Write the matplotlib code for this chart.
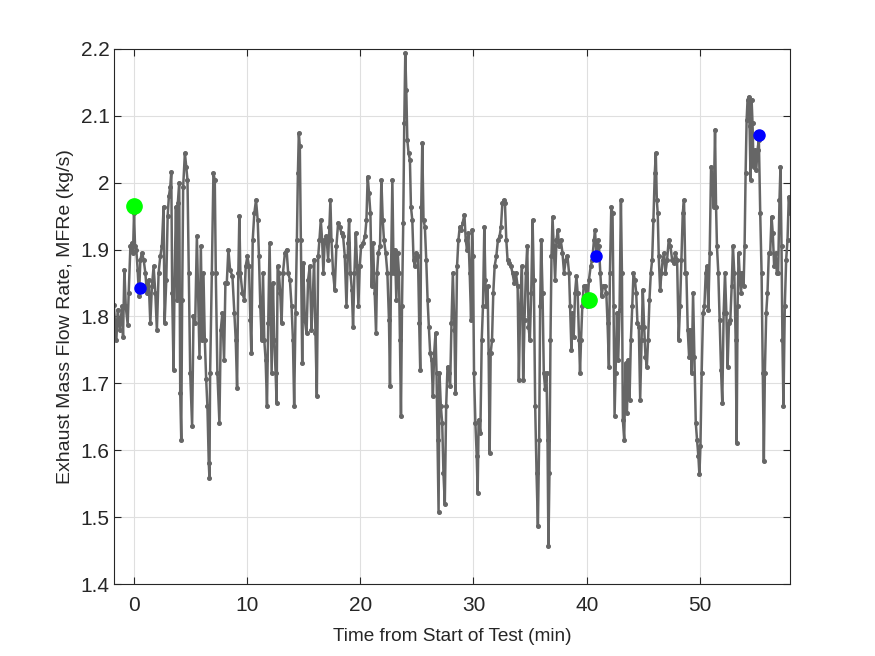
import matplotlib
matplotlib.use("Agg")
import matplotlib.pyplot as plt

# Exhaust mass flow rate trace (time in min, MFRe in kg/s)
time_min = [
    -1.76, -1.53, -1.41, -1.23, -1.03, -0.94, -0.82, -0.70, -0.53, -0.44, -0.29, -0.15, -0.06, 0.03, 0.12, 0.23,
    0.35, 0.47, 0.59, 0.73, 0.88, 1.03, 1.17, 1.32, 1.47, 1.61, 1.76, 1.91, 2.05, 2.20, 2.35, 2.49,
    2.64, 2.73, 2.88, 3.00, 3.11, 3.23, 3.32, 3.40, 3.52, 3.61, 3.73, 3.84, 3.90, 4.02, 4.11, 4.20,
    4.28, 4.37, 4.52, 4.64, 4.75, 4.87, 4.99, 5.16, 5.28, 5.43, 5.58, 5.69, 5.81, 5.93, 6.05, 6.16,
    6.28, 6.40, 6.51, 6.63, 6.69, 6.75, 6.90, 7.04, 7.16, 7.25, 7.39, 7.57, 7.69, 7.83, 7.98, 8.10,
    8.22, 8.36, 8.51, 8.72, 8.89, 9.01, 9.13, 9.24, 9.33, 9.42, 9.60, 9.77, 9.89, 10.04, 10.18, 10.30,
    10.39, 10.51, 10.65, 10.80, 10.95, 11.06, 11.18, 11.30, 11.42, 11.53, 11.65, 11.77, 11.88, 12.00, 12.09, 12.18,
    12.30, 12.41, 12.53, 12.62, 12.71, 12.82, 12.94, 13.06, 13.18, 13.35, 13.50, 13.64, 13.79, 13.94, 14.06, 14.17,
    14.29, 14.41, 14.50, 14.58, 14.67, 14.76, 14.88, 14.97, 15.11, 15.26, 15.40, 15.55, 15.70, 15.82, 15.93, 16.05,
    16.17, 16.29, 16.40, 16.52, 16.64, 16.75, 16.87, 17.02, 17.17, 17.28, 17.37, 17.46, 17.61, 17.75, 17.90, 18.05,
    18.20, 18.35, 18.49, 18.64, 18.79, 18.93, 19.02, 19.14, 19.26, 19.37, 19.49, 19.61, 19.73, 19.84, 19.96, 20.08,
    20.25, 20.43, 20.55, 20.66, 20.78, 20.90, 21.02, 21.13, 21.28, 21.40, 21.49, 21.60, 21.75, 21.87, 21.99, 22.10,
    22.25, 22.40, 22.54, 22.63, 22.72, 22.84, 22.95, 23.07, 23.19, 23.31, 23.42, 23.51, 23.60, 23.69, 23.80, 23.89,
    23.98, 24.07, 24.16, 24.27, 24.39, 24.48, 24.60, 24.71, 24.83, 24.95, 25.10, 25.21, 25.30, 25.39, 25.48, 25.59,
    25.71, 25.83, 25.95, 26.06, 26.18, 26.30, 26.42, 26.53, 26.65, 26.74, 26.83, 26.92, 27.00, 27.12, 27.24, 27.35,
    27.47, 27.59, 27.71, 27.82, 27.94, 28.06, 28.18, 28.32, 28.41, 28.55, 28.67, 28.79, 28.91, 29.05, 29.20, 29.32,
    29.43, 29.55, 29.67, 29.79, 29.88, 29.96, 30.05, 30.17, 30.29, 30.37, 30.46, 30.61, 30.73, 30.84, 30.96, 31.05,
    31.14, 31.25, 31.34, 31.43, 31.52, 31.64, 31.75, 31.87, 32.02, 32.16, 32.31, 32.43, 32.55, 32.66, 32.78, 32.90,
    33.01, 33.16, 33.31, 33.45, 33.60, 33.75, 33.90, 34.01, 34.13, 34.28, 34.39, 34.51, 34.63, 34.75, 34.86, 34.98,
    35.10, 35.22, 35.33, 35.45, 35.57, 35.69, 35.80, 35.89, 35.98, 36.10, 36.21, 36.33, 36.45, 36.54, 36.62, 36.71,
    36.80, 36.89, 36.98, 37.09, 37.21, 37.33, 37.45, 37.56, 37.71, 37.86, 38.00, 38.15, 38.30, 38.44, 38.53, 38.65,
    38.73, 38.85, 38.97, 39.09, 39.20, 39.32, 39.41, 39.50, 39.61, 39.73, 39.91, 40.05, 40.20, 40.35, 40.49, 40.64,
    40.73, 40.85, 40.96, 41.08, 41.20, 41.32, 41.43, 41.58, 41.73, 41.84, 41.96, 42.05, 42.17, 42.28, 42.37, 42.46,
    42.55, 42.67, 42.78, 42.90, 43.02, 43.11, 43.19, 43.31, 43.43, 43.55, 43.66, 43.78, 43.90, 44.02, 44.13, 44.25,
    44.37, 44.48, 44.60, 44.72, 44.84, 44.95, 45.07, 45.19, 45.31, 45.42, 45.54, 45.66, 45.78, 45.89, 46.01, 46.10,
    46.19, 46.27, 46.36, 46.48, 46.60, 46.71, 46.83, 46.95, 47.10, 47.24, 47.39, 47.54, 47.68, 47.83, 47.98, 48.12,
    48.24, 48.36, 48.48, 48.59, 48.71, 48.80, 48.92, 49.04, 49.16, 49.27, 49.39, 49.51, 49.63, 49.74, 49.86, 49.95,
    50.04, 50.15, 50.27, 50.39, 50.51, 50.62, 50.74, 50.86, 50.98, 51.09, 51.21, 51.33, 51.42, 51.50, 51.62, 51.74,
    51.86, 51.97, 52.09, 52.21, 52.33, 52.44, 52.56, 52.68, 52.80, 52.91, 53.03, 53.15, 53.24, 53.32, 53.41, 53.50,
    53.62, 53.73, 53.85, 53.94, 54.03, 54.12, 54.20, 54.29, 54.38, 54.47, 54.56, 54.64, 54.73, 54.85, 54.97, 55.08,
    55.20, 55.32, 55.44, 55.55, 55.64, 55.73, 55.85, 55.96, 56.08, 56.20, 56.32, 56.43, 56.55, 56.67, 56.79, 56.90,
    57.02, 57.11, 57.20, 57.28, 57.37, 57.49, 57.61, 57.73, 57.84, 57.96,
]
mfre = [
    1.817, 1.765, 1.810, 1.780, 1.815, 1.770, 1.870, 1.815, 1.788, 1.835, 1.905, 1.910, 1.895, 1.954, 1.905, 1.900,
    1.870, 1.830, 1.885, 1.895, 1.885, 1.865, 1.835, 1.855, 1.790, 1.845, 1.875, 1.835, 1.780, 1.865, 1.890, 1.905,
    1.964, 1.790, 1.855, 1.950, 1.980, 1.994, 2.016, 1.835, 1.720, 1.855, 1.964, 1.825, 1.970, 2.000, 1.686, 1.616,
    1.825, 1.994, 2.044, 2.024, 2.004, 1.865, 1.716, 1.636, 1.800, 1.790, 1.920, 1.835, 1.740, 1.905, 1.765, 1.865,
    1.765, 1.706, 1.666, 1.581, 1.559, 1.716, 1.865, 2.014, 2.004, 1.865, 1.716, 1.641, 1.780, 1.805, 1.735, 1.850,
    1.850, 1.900, 1.870, 1.860, 1.805, 1.765, 1.693, 1.865, 1.950, 1.865, 1.835, 1.825, 1.875, 1.890, 1.875, 1.795,
    1.745, 1.914, 1.954, 1.974, 1.944, 1.890, 1.815, 1.765, 1.865, 1.765, 1.735, 1.666, 1.790, 1.910, 1.815, 1.716,
    1.850, 1.765, 1.716, 1.671, 1.875, 1.865, 1.835, 1.790, 1.865, 1.895, 1.900, 1.865, 1.855, 1.815, 1.765, 1.666,
    1.805, 1.914, 2.014, 2.074, 2.054, 1.914, 1.730, 1.880, 1.795, 1.775, 1.855, 1.875, 1.780, 1.830, 1.885, 1.775,
    1.681, 1.890, 1.914, 1.944, 1.914, 1.865, 1.914, 1.920, 1.885, 1.934, 1.974, 1.914, 1.865, 1.840, 1.905, 1.940,
    1.934, 1.924, 1.920, 1.890, 1.815, 1.910, 1.944, 1.865, 1.840, 1.785, 1.865, 1.924, 1.875, 1.815, 1.875, 1.905,
    1.910, 1.920, 1.944, 2.009, 1.984, 1.954, 1.845, 1.910, 1.835, 1.775, 1.865, 1.895, 1.905, 2.004, 1.944, 1.914,
    1.895, 1.865, 1.795, 1.696, 1.865, 2.004, 1.865, 1.900, 1.825, 1.895, 1.865, 1.765, 1.651, 1.815, 1.940, 2.089,
    2.193, 2.138, 2.064, 2.044, 2.034, 1.964, 1.944, 1.885, 1.875, 1.895, 1.890, 1.790, 1.720, 1.964, 2.059, 1.944,
    1.934, 1.885, 1.825, 1.785, 1.745, 1.735, 1.681, 1.745, 1.775, 1.716, 1.616, 1.508, 1.716, 1.666, 1.641, 1.566,
    1.520, 1.666, 1.725, 1.716, 1.696, 1.790, 1.865, 1.780, 1.686, 1.875, 1.914, 1.934, 1.929, 1.940, 1.952, 1.914,
    1.900, 1.924, 1.865, 1.795, 1.929, 1.890, 1.716, 1.641, 1.591, 1.536, 1.646, 1.626, 1.765, 1.815, 1.934, 1.855,
    1.815, 1.845, 1.745, 1.596, 1.745, 1.765, 1.835, 1.875, 1.890, 1.914, 1.920, 1.934, 1.969, 1.974, 1.969, 1.914,
    1.885, 1.880, 1.875, 1.865, 1.850, 1.865, 1.845, 1.705, 1.815, 1.875, 1.705, 1.795, 1.865, 1.905, 1.785, 1.765,
    1.835, 1.944, 1.855, 1.666, 1.566, 1.487, 1.616, 1.815, 1.914, 1.835, 1.716, 1.691, 1.716, 1.616, 1.457, 1.566,
    1.765, 1.890, 1.949, 1.905, 1.855, 1.914, 1.929, 1.905, 1.914, 1.895, 1.865, 1.885, 1.890, 1.865, 1.815, 1.750,
    1.805, 1.770, 1.835, 1.860, 1.835, 1.765, 1.716, 1.765, 1.815, 1.845, 1.845, 1.815, 1.855, 1.875, 1.885, 1.914,
    1.929, 1.895, 1.914, 1.905, 1.865, 1.830, 1.845, 1.845, 1.835, 1.790, 1.725, 1.865, 1.964, 1.954, 1.815, 1.651,
    1.716, 1.805, 1.735, 1.810, 1.974, 1.865, 1.646, 1.616, 1.730, 1.656, 1.735, 1.676, 1.765, 1.815, 1.865, 1.855,
    1.835, 1.790, 1.785, 1.676, 1.765, 1.840, 1.785, 1.740, 1.725, 1.765, 1.825, 1.865, 1.885, 1.944, 2.014, 2.044,
    1.974, 1.954, 1.890, 1.840, 1.865, 1.885, 1.895, 1.865, 1.885, 1.914, 1.905, 1.885, 1.880, 1.895, 1.885, 1.765,
    1.815, 1.885, 1.954, 1.974, 1.865, 1.865, 1.780, 1.740, 1.780, 1.716, 1.835, 1.740, 1.641, 1.616, 1.591, 1.564,
    1.606, 1.716, 1.805, 1.815, 1.865, 1.875, 1.810, 1.895, 2.024, 2.004, 1.964, 2.079, 1.964, 1.905, 1.865, 1.795,
    1.720, 1.671, 1.805, 1.865, 1.805, 1.725, 1.790, 1.795, 1.845, 1.905, 1.865, 1.765, 1.611, 1.815, 1.895, 1.865,
    1.835, 1.865, 1.845, 1.905, 2.014, 2.094, 2.123, 2.128, 2.084, 2.004, 2.123, 2.089, 2.024, 2.049, 2.019, 2.049,
    2.064, 1.954, 1.865, 1.716, 1.584, 1.716, 1.805, 1.835, 1.895, 1.895, 1.949, 1.924, 1.875, 1.895, 1.865, 1.865,
    1.974, 2.024, 1.905, 1.765, 1.666, 1.815, 1.885, 1.914, 1.979, 1.954,
]

# Highlighted points
green_t = [0.0, 40.2]
green_v = [1.965, 1.825]
blue_t = [0.53, 40.85, 55.2]
blue_v = [1.842, 1.891, 2.071]

xticks = [0, 10, 20, 30, 40, 50]
yticks = [1.4, 1.5, 1.6, 1.7, 1.8, 1.9, 2.0, 2.1, 2.2]
ytick_labels = ["1.4", "1.5", "1.6", "1.7", "1.8", "1.9", "2", "2.1", "2.2"]

plt.rcParams['font.family'] = ['Liberation Sans', 'DejaVu Sans']

fig = plt.figure(figsize=(8.75, 6.56), dpi=100)
ax = fig.add_axes([0.13, 0.1093, 0.773, 0.8165])

ax.plot(time_min, mfre, '-', color='#666666', linewidth=1.8,
        marker='o', markersize=2.6, markerfacecolor='#666666', markeredgecolor='#666666', zorder=2)
ax.plot(green_t, green_v, 'o', color='#00ff00', markersize=11, linestyle='none', zorder=3)
ax.plot(blue_t, blue_v, 'o', color='#0000ff', markersize=8, linestyle='none', zorder=4)

ax.set_xlim(time_min[0], time_min[-1])
ax.set_ylim(1.4, 2.2)
ax.set_xticks(xticks)
ax.set_yticks(yticks)
ax.set_yticklabels(ytick_labels)

ax.grid(True, color='#dfdfdf', linewidth=0.8)
ax.set_axisbelow(True)
for s in ax.spines.values():
    s.set_color('#262626')
    s.set_linewidth(0.8)
ax.tick_params(direction='in', length=5, width=0.8, colors='#262626', labelsize=15,
               top=True, right=True)
ax.tick_params(axis='x', pad=8.5)
ax.tick_params(axis='y', pad=3)

ax.set_xlabel('Time from Start of Test (min)', fontsize=13.7, color='#262626', labelpad=9)
ax.set_ylabel('Exhaust Mass Flow Rate, MFRe (kg/s)', fontsize=14, color='#262626', labelpad=5)

fig.savefig('out.png', dpi=100)
